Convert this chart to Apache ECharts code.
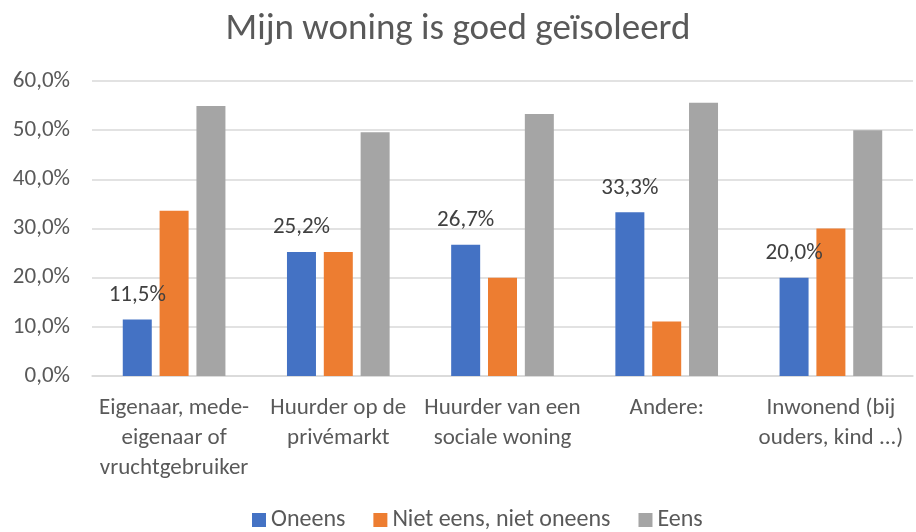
<!DOCTYPE html>
<html>
<head>
<meta charset="utf-8">
<script src="https://cdn.jsdelivr.net/npm/echarts@6/dist/echarts.min.js"></script>
<style>
html, body { margin: 0; padding: 0; background: #fff; }
#chart { width: 916px; height: 532px; }
</style>
</head>
<body>
<div id="chart"></div>
<script>
// data
var categories = [
    'Eigenaar, mede-\neigenaar of\nvruchtgebruiker',
    'Huurder op de\nprivémarkt',
    'Huurder van een\nsociale woning',
    'Andere:',
    'Inwonend (bij\nouders, kind ...)'
];
var oneens = [11.5, 25.2, 26.7, 33.3, 20.0];
var nietEens = [33.6, 25.2, 20.0, 11.1, 30.0];
var eens = [54.9, 49.6, 53.3, 55.6, 50.0];

var fontName = 'Carlito, "Open Sans", "Liberation Sans", sans-serif';

var myChart = echarts.init(document.getElementById('chart'));

function pct(v) {
    return v.toFixed(1).replace('.', ',') + '%';
}

var option = {
    animation: false,
    textStyle: { fontFamily: fontName },
    title: {
        text: 'Mijn woning is goed geïsoleerd',
        left: 'center',
        top: 6,
        textStyle: { fontSize: 37, fontWeight: 'normal', color: '#595959', fontFamily: fontName }
    },
    legend: {
        data: ['Oneens', 'Niet eens, niet oneens', 'Eens'],
        top: 503,
        left: 247,
        itemWidth: 14,
        itemHeight: 14,
        itemGap: 28,
        icon: 'rect',
        textStyle: { fontSize: 24, color: '#595959', fontFamily: fontName }
    },
    grid: {
        left: 92,
        right: 3,
        top: 81,
        bottom: 156,
        containLabel: false
    },
    xAxis: {
        type: 'category',
        data: categories,
        axisLine: { lineStyle: { color: '#d9d9d9', width: 1.5 } },
        axisTick: { show: false },
        axisLabel: {
            fontSize: 23,
            color: '#595959',
            lineHeight: 30,
            margin: 17,
            interval: 0,
            fontFamily: fontName
        }
    },
    yAxis: {
        type: 'value',
        min: 0,
        max: 60,
        interval: 10,
        axisLine: { show: false },
        axisTick: { show: false },
        splitLine: { lineStyle: { color: '#d9d9d9', width: 1.5 } },
        axisLabel: {
            fontSize: 23,
            color: '#595959',
            margin: 22,
            fontFamily: fontName,
            formatter: function (v) { return pct(v); }
        }
    },
    series: [
        {
            name: 'Oneens',
            type: 'bar',
            data: oneens,
            barWidth: 29,
            barGap: '27%',
            itemStyle: { color: '#4472C4' },
            label: {
                show: true,
                position: 'top',
                distance: 13,
                fontSize: 23,
                color: '#404040',
                fontFamily: fontName,
                formatter: function (p) { return pct(p.value); }
            }
        },
        {
            name: 'Niet eens, niet oneens',
            type: 'bar',
            data: nietEens,
            barWidth: 29,
            barGap: '27%',
            itemStyle: { color: '#ED7D31' }
        },
        {
            name: 'Eens',
            type: 'bar',
            data: eens,
            barWidth: 29,
            barGap: '27%',
            itemStyle: { color: '#A5A5A5' }
        }
    ]
};
myChart.setOption(option);
</script>
</body>
</html>
